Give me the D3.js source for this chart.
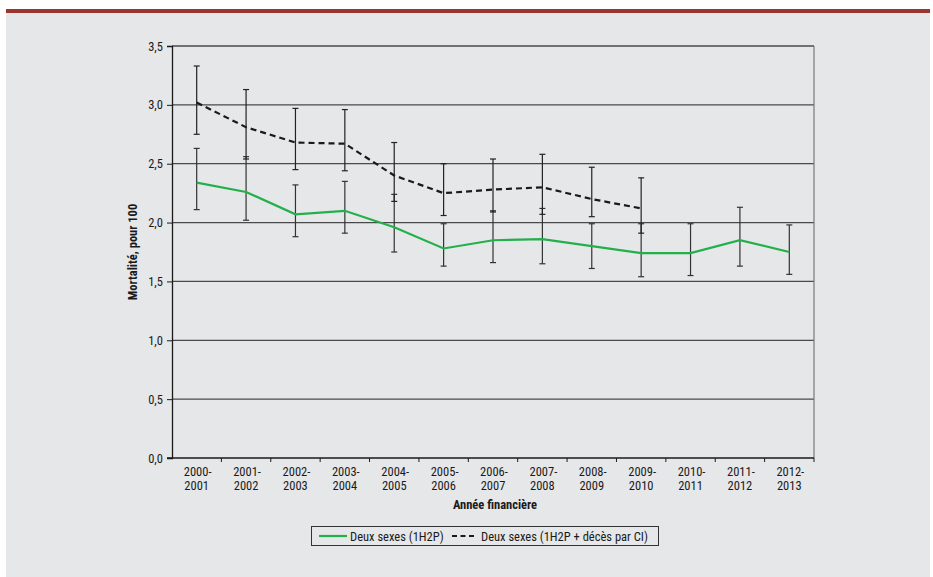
<!DOCTYPE html>
<html>
<head>
<meta charset="utf-8">
<script src="https://cdn.jsdelivr.net/npm/d3@7"></script>
<style>
  body { margin: 0; background: #fff; }
  svg { display: block; }
  text { font-family: "Liberation Sans Narrow", "Roboto Condensed", "DejaVu Sans Condensed", sans-serif; fill: #1a1a1a; }
</style>
</head>
<body>
<div id="chart"></div>
<script>
// données
const years = ["2000-2001", "2001-2002", "2002-2003", "2003-2004", "2004-2005", "2005-2006", "2006-2007",
  "2007-2008", "2008-2009", "2009-2010", "2010-2011", "2011-2012", "2012-2013"];
const yTicks = [0, 0.5, 1, 1.5, 2, 2.5, 3, 3.5];

// Deux sexes (1H2P)
const green = [2.34, 2.26, 2.07, 2.10, 1.96, 1.78, 1.85, 1.86, 1.80, 1.74, 1.74, 1.85, 1.75];
const greenLow = [2.11, 2.02, 1.88, 1.91, 1.75, 1.63, 1.66, 1.65, 1.61, 1.54, 1.55, 1.63, 1.56];
const greenHigh = [2.63, 2.56, 2.32, 2.35, 2.24, 1.99, 2.10, 2.12, 1.99, 1.99, 1.99, 2.13, 1.98];

// Deux sexes (1H2P + décès par CI)
const dashed = [3.02, 2.81, 2.68, 2.67, 2.40, 2.25, 2.28, 2.30, 2.20, 2.12];
const dashedLow = [2.75, 2.54, 2.45, 2.44, 2.18, 2.06, 2.09, 2.07, 2.05, 1.91];
const dashedHigh = [3.33, 3.13, 2.97, 2.96, 2.68, 2.50, 2.54, 2.58, 2.47, 2.38];

const W = 933, H = 577;
const m = { left: 172, right: 814, top: 46, bottom: 458 };
const fs = 12.5;

const svg = d3.select('#chart').append('svg')
    .attr('width', W)
    .attr('height', H);

// fond et bandeau rouge
svg.append('rect').attr('x', 6).attr('y', 9).attr('width', 924).attr('height', H - 9).attr('fill', '#e6e7e9');
svg.append('rect').attr('x', 6).attr('y', 9).attr('width', 924).attr('height', 4).attr('fill', '#9b3530');

const x = d3.scaleBand().domain(years).range([m.left, m.right]);
const y = d3.scaleLinear().domain([0, 3.5]).range([m.bottom, m.top]);
const cx = d => x(d) + x.bandwidth() / 2;

// quadrillage
svg.append('g').selectAll('line')
    .data(yTicks.filter(t => t > 0))
    .enter().append('line')
    .attr('x1', m.left).attr('x2', m.right)
    .attr('y1', d => y(d)).attr('y2', d => y(d))
    .attr('stroke', '#4a4a4a')
    .attr('stroke-width', 1.3);
svg.append('line')
    .attr('x1', m.right).attr('x2', m.right)
    .attr('y1', m.top).attr('y2', m.bottom)
    .attr('stroke', '#7a7a7a').attr('stroke-width', 1.2);

// axes
const yAxis = svg.append('g')
    .attr('transform', `translate(${m.left},0)`)
    .call(d3.axisLeft(y).tickValues(yTicks).tickSize(5).tickFormat(d => d3.format('.1f')(d).replace('.', ',')));
const xAxis = svg.append('g')
    .attr('transform', `translate(0,${m.bottom})`)
    .call(d3.axisBottom(x).tickSize(0).tickFormat(''));
[yAxis, xAxis].forEach(a => {
    a.select('.domain').attr('stroke', '#1a1a1a').attr('stroke-width', 1.3);
    a.selectAll('.tick line').attr('stroke', '#1a1a1a');
});
yAxis.selectAll('.tick text').attr('font-size', fs).attr('dx', -1);
xAxis.select('.domain').attr('d', `M${m.left - 5},0H${m.right}`);

// petites graduations entre catégories
svg.append('g').selectAll('line')
    .data(years)
    .enter().append('line')
    .attr('x1', d => x(d) + x.bandwidth())
    .attr('x2', d => x(d) + x.bandwidth())
    .attr('y1', m.bottom).attr('y2', m.bottom + 4)
    .attr('stroke', '#1a1a1a');

// étiquettes de l'axe x sur deux lignes
const xl = svg.append('g').selectAll('text')
    .data(years)
    .enter().append('text')
    .attr('text-anchor', 'middle')
    .attr('font-size', fs);
xl.append('tspan').attr('x', d => cx(d) + 1).attr('y', m.bottom + 18).text(d => d.split('-')[0] + '-');
xl.append('tspan').attr('x', d => cx(d)).attr('y', m.bottom + 32).text(d => d.split('-')[1]);

// titres des axes
svg.append('text')
    .attr('x', (m.left + m.right) / 2 + 2).attr('y', m.bottom + 51)
    .attr('text-anchor', 'middle').attr('font-size', fs).attr('font-weight', 'bold')
    .text('Année financière');
svg.append('text')
    .attr('transform', `translate(137,${(m.top + m.bottom) / 2}) rotate(-90)`)
    .attr('text-anchor', 'middle').attr('font-size', fs).attr('font-weight', 'bold')
    .text('Mortalité, pour 100');

// barres d'erreur
function errorBars(low, high, color) {
    const g = svg.append('g').attr('stroke', color).attr('stroke-width', 1.2);
    low.forEach((lo, i) => {
        const px = cx(years[i]);
        g.append('line').attr('x1', px).attr('x2', px).attr('y1', y(lo)).attr('y2', y(high[i]));
        g.append('line').attr('x1', px - 3).attr('x2', px + 3).attr('y1', y(lo)).attr('y2', y(lo));
        g.append('line').attr('x1', px - 3).attr('x2', px + 3).attr('y1', y(high[i])).attr('y2', y(high[i]));
    });
}
errorBars(greenLow, greenHigh, '#333');
errorBars(dashedLow, dashedHigh, '#222');

// séries
const line = d3.line().x((d, i) => cx(years[i])).y(d => y(d));
svg.append('path').datum(green)
    .attr('d', line).attr('fill', 'none')
    .attr('stroke', '#23b04b').attr('stroke-width', 2.2);
svg.append('path').datum(dashed)
    .attr('d', line).attr('fill', 'none')
    .attr('stroke', '#1a1a1a').attr('stroke-width', 2.2).attr('stroke-dasharray', '6,4');

// légende
const lg = svg.append('g');
lg.append('rect').attr('x', 311.5).attr('y', 526.5).attr('width', 347).attr('height', 19)
    .attr('fill', 'none').attr('stroke', '#333');
lg.append('line').attr('x1', 319).attr('x2', 347).attr('y1', 536).attr('y2', 536)
    .attr('stroke', '#23b04b').attr('stroke-width', 2.2);
lg.append('text').attr('x', 350).attr('y', 540.5).attr('font-size', fs).text('Deux sexes (1H2P)');
lg.append('line').attr('x1', 452).attr('x2', 476).attr('y1', 536).attr('y2', 536)
    .attr('stroke', '#1a1a1a').attr('stroke-width', 2.2).attr('stroke-dasharray', '5,3.5');
lg.append('text').attr('x', 481).attr('y', 540.5).attr('font-size', fs).text('Deux sexes (1H2P + décès par CI)');
</script>
</body>
</html>
